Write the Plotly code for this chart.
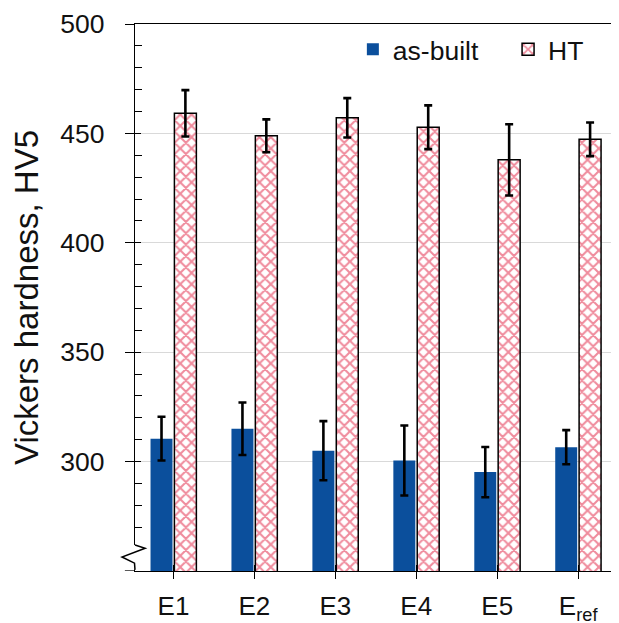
import plotly.graph_objects as go

categories = ["E1", "E2", "E3", "E4", "E5", "E<sub>ref</sub>"]
as_built = [310.5, 315.0, 305.0, 300.5, 295.2, 306.6]
as_built_err = [10.0, 12.0, 13.5, 16.0, 11.5, 7.8]
ht = [459.2, 448.9, 457.1, 452.8, 437.9, 447.3]
ht_err = [10.6, 7.5, 9.0, 10.0, 16.3, 7.7]

y_major = [300, 350, 400, 450, 500]
y_minor = [270, 280, 290] + [v for v in range(310, 500, 10) if v % 50 != 0]

FONT = "Liberation Sans"
BLUE = "#0B4F9C"
RED = "#E0183A"

fig = go.Figure()
fig.add_trace(go.Bar(
    name="as-built", x=categories, y=as_built, legend="legend",
    marker=dict(color=BLUE, line=dict(width=0)),
    error_y=dict(type="data", array=as_built_err, color="black", thickness=2.6, width=4),
))
fig.add_trace(go.Bar(
    name="HT", x=categories, y=ht, legend="legend2",
    marker=dict(color="white", line=dict(color="black", width=1.5),
                pattern=dict(shape="x", fgcolor=RED, bgcolor="white", size=8, solidity=0.45)),
    error_y=dict(type="data", array=ht_err, color="black", thickness=2.6, width=4),
))
# invisible trace for the overlay axes (inside halves of cross ticks)
fig.add_trace(go.Scatter(x=[categories[0]], y=[None], xaxis="x2", yaxis="y2",
                         showlegend=False, hoverinfo="skip"))

yr = [250, 500]
xr = [-0.475, 5.48]

leg_common = dict(orientation="h", y=0.997, yanchor="top", xanchor="left",
                  font=dict(size=26.5, family=FONT), bgcolor="rgba(0,0,0,0)")

fig.update_layout(
    width=611, height=615,
    margin=dict(l=127, r=2, t=16, b=52),
    paper_bgcolor="white", plot_bgcolor="white",
    font=dict(family=FONT, color="#111111", size=26),
    barmode="group", bargap=0.41, bargroupgap=0.08,
    showlegend=True,
    legend=dict(x=0.452, **leg_common),
    legend2=dict(x=0.774, **leg_common),
    xaxis=dict(
        type="category", categoryorder="array", categoryarray=categories,
        range=xr, showline=True, linecolor="black", linewidth=1.3, mirror=True,
        ticks="outside", ticklen=7, tickwidth=1.3, tickcolor="black",
        tickfont=dict(size=26), ticklabelstandoff=5, showgrid=False, automargin=False,
    ),
    yaxis=dict(
        range=yr, tickvals=y_major, showline=True, linecolor="black", linewidth=1.3, mirror=True,
        ticks="outside", ticklen=9, tickwidth=1.3, tickcolor="black",
        tickfont=dict(size=26.5), ticklabelstandoff=15, automargin=False,
        showgrid=True, gridcolor="#D9D9D9", gridwidth=1, zeroline=False,
        minor=dict(tickvals=y_minor, ticks="inside", ticklen=7, tickwidth=1.3,
                   tickcolor="black", showgrid=False),
        title=dict(text="Vickers hardness, HV5", font=dict(size=33), standoff=30),
    ),
    xaxis2=dict(
        type="category", categoryorder="array", categoryarray=categories,
        range=xr, overlaying="x", anchor="y", side="bottom", automargin=False,
        ticks="inside", ticklen=6, tickwidth=1.3, tickcolor="black",
        showticklabels=False, showgrid=False, showline=False, zeroline=False,
    ),
    yaxis2=dict(
        range=yr, tickvals=y_major, overlaying="y", anchor="x", side="left", automargin=False,
        ticks="inside", ticklen=6, tickwidth=1.3, tickcolor="black",
        showticklabels=False, showgrid=False, showline=False, zeroline=False,
    ),
)

# axis break symbol
fig.add_shape(type="rect", xref="paper", yref="y", x0=-0.006, x1=0.006, y0=250.7, y1=261.9,
              fillcolor="white", line=dict(width=0), layer="above")
fig.add_shape(type="path", xref="paper", yref="y",
              path="M 0,261.9 L 0.021,260.4 L -0.027,256.4 L -0.001,253.6 L 0,250.5",
              line=dict(color="black", width=1.5), layer="above")
fig.add_shape(type="line", xref="paper", yref="y", x0=-0.021, x1=0, y0=250, y1=250,
              line=dict(color="black", width=1.3), layer="above")

fig.write_html("out.html")
